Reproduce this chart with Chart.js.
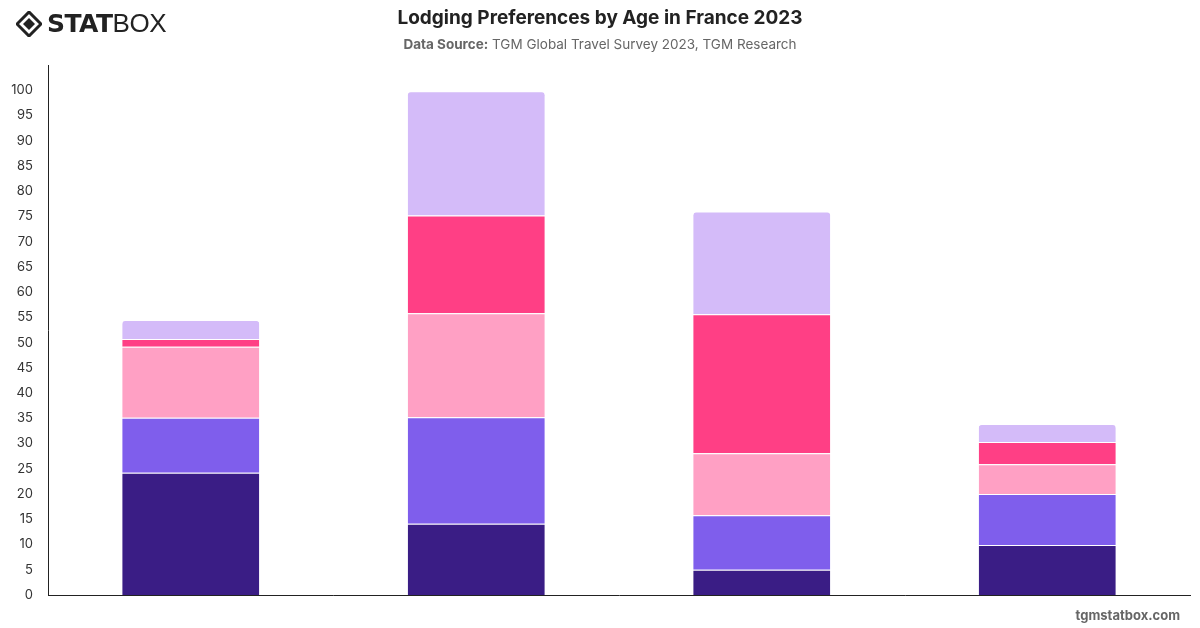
<!DOCTYPE html>
<html>
<head>
<meta charset="utf-8">
<script src="https://cdn.jsdelivr.net/npm/chart.js@4/dist/chart.umd.min.js"></script>
<style>
  html, body { margin: 0; padding: 0; background: #fff; }
  body { width: 1200px; height: 628px; position: relative; overflow: hidden; font-family: Inter, "Liberation Sans", sans-serif; }
  #wrap { position: absolute; left: 0; top: 0; width: 1200px; height: 628px; }
  .logo { position: absolute; left: 16px; top: 8px; display: flex; align-items: center; color: #222; }
  .logo svg { margin-right: 5px; }
  .logo .stat { font-family: "DejaVu Sans", sans-serif; font-weight: 900; font-size: 25px; letter-spacing: -0.5px; }
  .logo .box { font-family: "Liberation Sans", sans-serif; font-weight: 400; font-size: 26px; letter-spacing: -0.5px; }
  .title { position: absolute; left: 0; width: 1200px; top: 6px; text-align: center; font-size: 19px; font-weight: 700; color: #222; }
  .sub { position: absolute; left: 0; width: 1200px; top: 36px; text-align: center; font-size: 13.5px; color: #666; }
  .sub b { font-weight: 700; }
  .foot { position: absolute; right: 20px; top: 607px; font-size: 13px; font-weight: 700; color: #666; }
</style>
</head>
<body>
<div id="wrap"><canvas id="Chart_0" width="1200" height="628"></canvas></div>
<div class="logo">
  <svg width="26" height="26" viewBox="0 0 26 26">
    <polygon points="13,1 25,13 13,25 1,13" fill="none" stroke="#222" stroke-width="3"/>
    <polygon points="13,7 19,13 13,19 7,13" fill="#222"/>
  </svg>
  <span class="stat">STAT</span><span class="box">BOX</span>
</div>
<div class="title">Lodging Preferences by Age in France 2023</div>
<div class="sub"><b>Data Source:</b> TGM Global Travel Survey 2023, TGM Research</div>
<div class="foot">tgmstatbox.com</div>
<script>
"use strict";

// categories (x labels hidden in the picture)
const ageGroups = ['18-24', '25-34', '35-44', '45-54'];
// series, bottom to top
const hotel      = [24.2, 14.1, 5.0, 9.9];
const rental     = [10.9, 21.1, 10.8, 10.1];
const hostel     = [14.1, 20.6, 12.3, 5.9];
const camping    = [1.5, 19.4, 27.5, 4.4];
const other      = [3.8, 24.6, 20.4, 3.6];
const yTicks     = [0, 5, 10, 15, 20, 25, 30, 35, 40, 45, 50, 55, 60, 65, 70, 75, 80, 85, 90, 95, 100];

const seriesNames  = ['Hotel', 'Vacation rental', 'Hostel', 'Camping', 'Other'];
const seriesValues = [hotel, rental, hostel, camping, other];
const seriesColors = ['#3a1d85', '#7f5eec', '#ffa0c4', '#ff3f85', '#d4bbf9'];

let ctx = document.getElementById('Chart_0');
let chart = new Chart(ctx, {
  type: 'bar',
  data: {
    labels: ageGroups,
    datasets: seriesNames.map((name, i) => ({
      label: name,
      data: seriesValues[i],
      backgroundColor: seriesColors[i],
      borderColor: '#ffffff',
      borderWidth: { top: 1, bottom: 0, left: 0, right: 0 },
      borderSkipped: false,
      borderRadius: i === seriesNames.length - 1 ? { topLeft: 4, topRight: 4 } : 0,
      barPercentage: 0.8,
      categoryPercentage: 0.6,
    })),
  },
  options: {
    responsive: false,
    animation: false,
    layout: { padding: { top: 65, left: 8, right: 10, bottom: 33 } },
    plugins: {
      legend: { display: false },
      tooltip: { enabled: false },
    },
    scales: {
      x: {
        stacked: true,
        grid: { display: false, drawTicks: false },
        border: { display: true, color: '#222', width: 1 },
        ticks: { display: false },
      },
      y: {
        stacked: true,
        min: 0,
        max: 105,
        afterBuildTicks: axis => { axis.ticks = yTicks.map(v => ({ value: v })); },
        afterFit: axis => { axis.width = 40; },
        grid: { display: false, drawTicks: false },
        border: { display: true, color: '#222', width: 1 },
        ticks: { color: '#333', font: { family: 'Inter', size: 13 }, padding: 15 },
      },
    },
  },
});
</script>
</body>
</html>
